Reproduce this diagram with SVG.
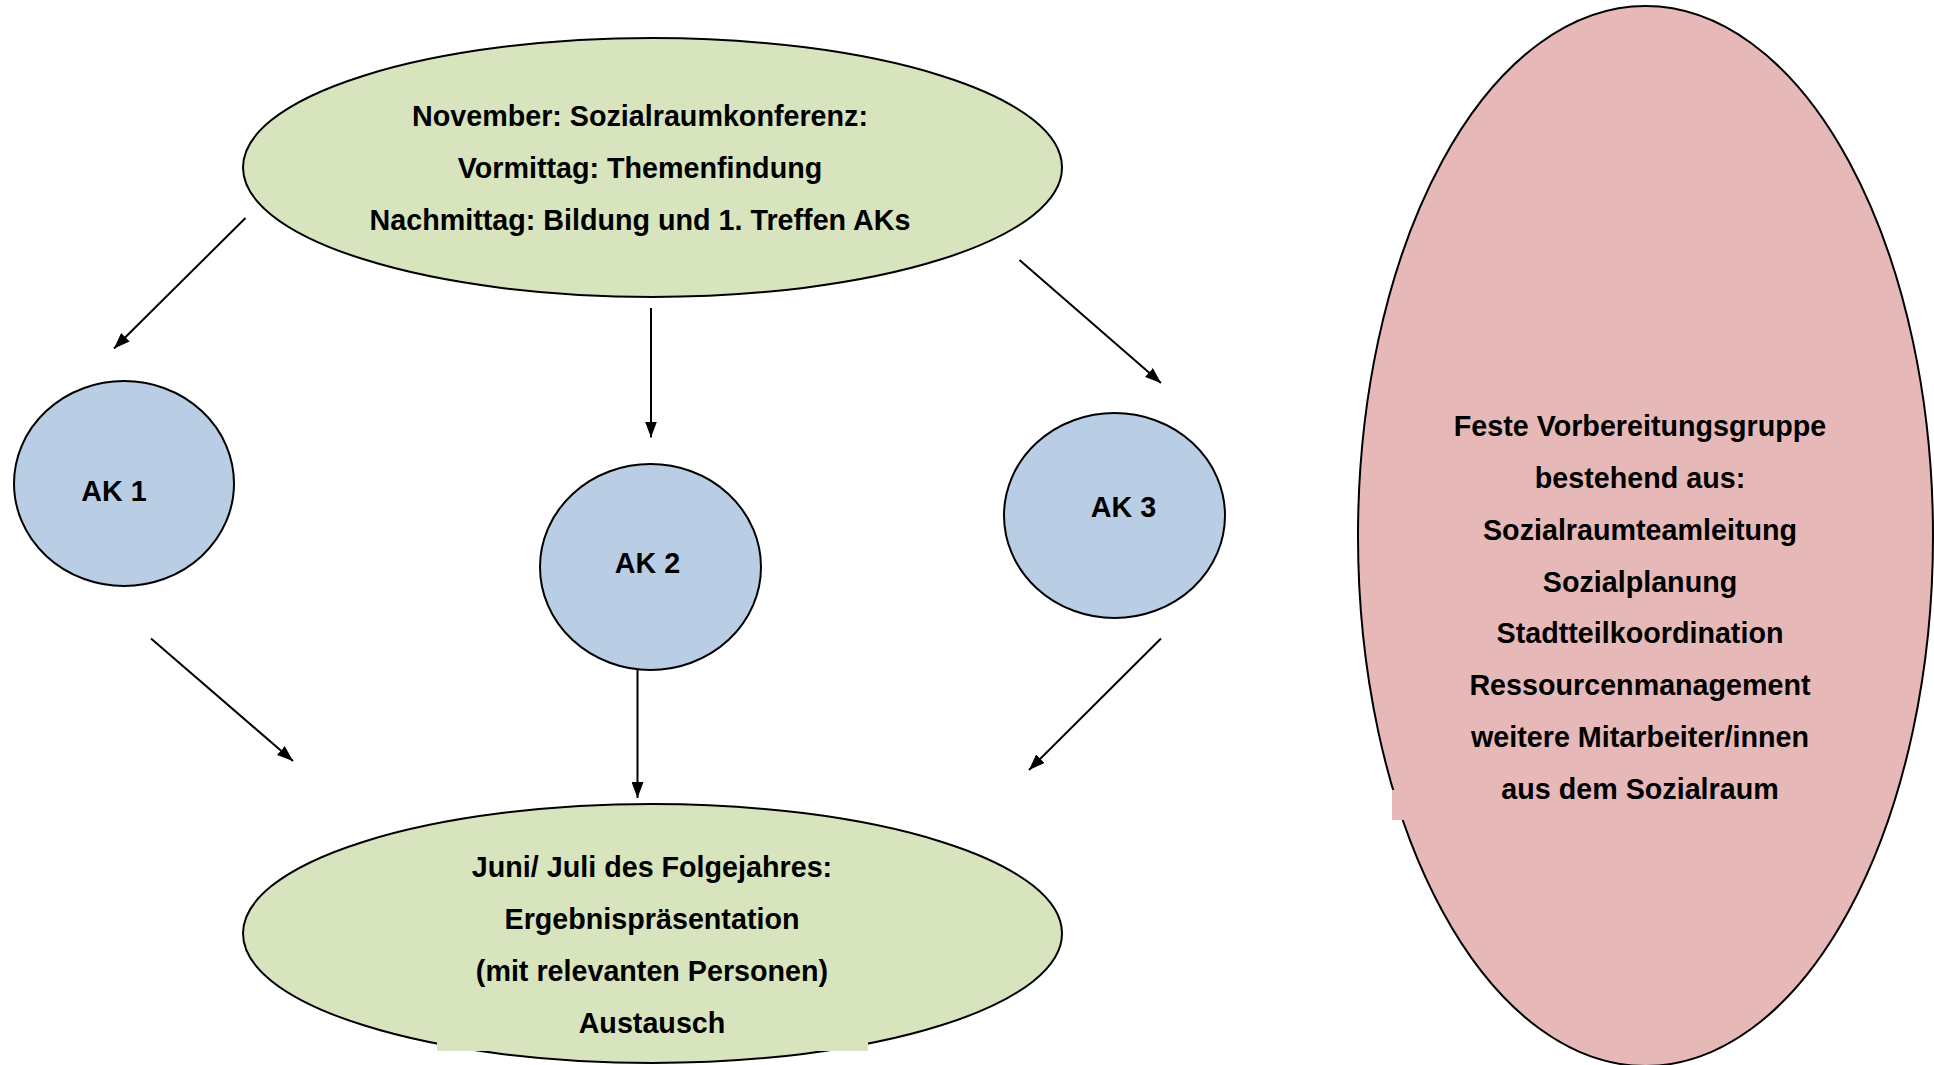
<svg xmlns="http://www.w3.org/2000/svg" width="1934" height="1065" viewBox="0 0 1934 1065">
<defs>
<style>
.lbl{font-family:"Liberation Sans",Arial,sans-serif;font-weight:bold;font-size:28.7px;fill:#000;text-anchor:middle}
.green{fill:#D7E4BD;stroke:#000;stroke-width:2}
.blue{fill:#B9CDE5;stroke:#000;stroke-width:2}
.pink{fill:#E6B9B8;stroke:#000;stroke-width:2}
.conn{stroke:#000;stroke-width:2;fill:none;marker-end:url(#arr)}
</style>
<marker id="arr" viewBox="0 0 16 12" refX="16" refY="6" markerWidth="16" markerHeight="12" orient="auto" markerUnits="userSpaceOnUse">
<path d="M0,0 L16,6 L0,12 z" fill="#000"/>
</marker>
</defs>
<rect width="1934" height="1065" fill="#fff"/>
<g id="vorbereitungsgruppe">
<ellipse class="pink" cx="1645.5" cy="536" rx="287.5" ry="530"/>
<rect x="1392" y="790" width="30" height="30" fill="#E6B9B8"/>
<text class="lbl" x="1640" y="436">Feste Vorbereitungsgruppe</text>
<text class="lbl" x="1640" y="488">bestehend aus:</text>
<text class="lbl" x="1640" y="540">Sozialraumteamleitung</text>
<text class="lbl" x="1640" y="592">Sozialplanung</text>
<text class="lbl" x="1640" y="643">Stadtteilkoordination</text>
<text class="lbl" x="1640" y="695">Ressourcenmanagement</text>
<text class="lbl" x="1640" y="747">weitere Mitarbeiter/innen</text>
<text class="lbl" x="1640" y="799">aus dem Sozialraum</text>
</g>
<g id="konferenz">
<ellipse class="green" cx="652.5" cy="167.5" rx="409.5" ry="129.5"/>
<text class="lbl" x="640" y="126">November: Sozialraumkonferenz:</text>
<text class="lbl" x="640" y="178">Vormittag: Themenfindung</text>
<text class="lbl" x="640" y="230">Nachmittag: Bildung und 1. Treffen AKs</text>
</g>
<g id="ak1">
<ellipse class="blue" cx="124" cy="483.5" rx="110" ry="102.5"/>
<text class="lbl" x="114" y="501">AK 1</text>
</g>
<g id="ak2">
<ellipse class="blue" cx="650.5" cy="567" rx="110.5" ry="103"/>
<text class="lbl" x="647.5" y="573">AK 2</text>
</g>
<g id="ak3">
<ellipse class="blue" cx="1114.5" cy="515.5" rx="110.5" ry="102.5"/>
<text class="lbl" x="1123.5" y="517">AK 3</text>
</g>
<g id="praesentation">
<ellipse class="green" cx="652.5" cy="933.5" rx="409.5" ry="129.5"/>
<rect x="437" y="1036" width="431" height="15" fill="#D7E4BD"/>
<text class="lbl" x="652" y="877">Juni/ Juli des Folgejahres:</text>
<text class="lbl" x="652" y="929">Ergebnispräsentation</text>
<text class="lbl" x="652" y="981">(mit relevanten Personen)</text>
<text class="lbl" x="652" y="1033">Austausch</text>
</g>
<g id="connectors">
<line class="conn" x1="245.5" y1="218" x2="114" y2="348.5"/>
<line class="conn" x1="651" y1="308" x2="651" y2="437.5"/>
<line class="conn" x1="1019.5" y1="260" x2="1161" y2="383"/>
<line class="conn" x1="151" y1="638.5" x2="293" y2="761"/>
<line class="conn" x1="637.5" y1="670" x2="637.5" y2="798"/>
<line class="conn" x1="1161" y1="638.5" x2="1029" y2="770"/>
</g>
</svg>
